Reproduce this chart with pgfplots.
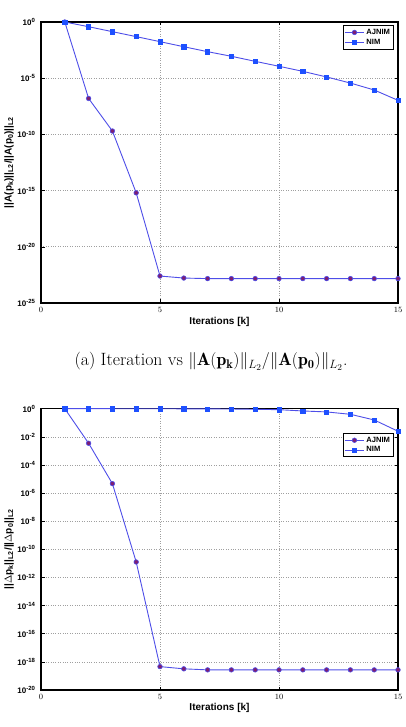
\documentclass[border=0pt]{standalone}
\usepackage{pgfplots}
\pgfplotsset{compat=1.18}
\usepackage{fontspec}
\newfontfamily\hv{Liberation Sans}

\definecolor{lineblue}{RGB}{78,78,232}
\definecolor{ajfill}{RGB}{125,30,115}
\definecolor{nimfill}{RGB}{30,80,255}

\newcommand{\ex}[1]{10\textsuperscript{#1}}

\pgfplotsset{
  ajnim/.style={color=lineblue, line width=0.9pt, mark=*, mark size=2.3pt,
    mark options={fill=ajfill, draw=lineblue, line width=0.6pt}},
  nim/.style={color=lineblue, line width=0.9pt, mark=square*, mark size=2.1pt,
    mark options={fill=nimfill, draw=nimfill, line width=0.5pt}},
}

\begin{document}
\begin{tikzpicture}
\useasboundingbox (0,0) rectangle (405pt,727pt);

% Residual ratio
\begin{semilogyaxis}[
  scale only axis,
  width=357pt, height=281pt,
  at={(41pt,424pt)}, anchor=south west,
  xmin=0, xmax=15, xtick={0,5,10,15},
  ymin=1e-25, ymax=1,
  ytick={1,1e-5,1e-10,1e-15,1e-20,1e-25},
  yticklabels={\ex{0},\ex{-5},\ex{-10},\ex{-15},\ex{-20},\ex{-25}},
  yminorticks=false,
  tick align=inside,
  major tick length=3.5pt,
  grid=major,
  major grid style={dotted, gray!75, line width=0.6pt},
  axis line style={black, line width=1.1pt},
  tick style={black, line width=0.5pt},
  tick label style={font=\hv\bfseries\fontsize{8}{9}\selectfont},
  yticklabel style={xshift=-2pt},
  xticklabel style={yshift=-1pt},
  label style={font=\hv\bfseries\fontsize{10}{11}\selectfont},
  xlabel={Iterations [k]},
  xlabel style={at={(axis description cs:0.5,-0.0669)}, anchor=center},
  ylabel={||A(p\textsubscript{k})||\textsubscript{L2}/||A(p\textsubscript{0})||\textsubscript{L2}},
  ylabel style={at={(axis description cs:-0.0896,0.5)}, anchor=center, rotate=0},
  legend cell align=left,
  legend image code/.code={%
    \draw[mark repeat=2, mark phase=2, #1] plot coordinates {(0pt,0pt) (9.5pt,0pt) (19pt,0pt)};},
  legend style={font=\hv\bfseries\fontsize{7.6}{9}\selectfont, draw=black, line width=1pt,
    inner sep=1.5pt, row sep=-1pt, at={(0.989,0.989)}, anchor=north east},
]
\addplot[ajnim] coordinates {
 (1,1) (2,1.58e-7) (3,2.0e-10) (4,6.3e-16) (5,2.5e-23) (6,1.66e-23)
 (7,1.48e-23) (8,1.48e-23) (9,1.48e-23) (10,1.48e-23) (11,1.48e-23)
 (12,1.48e-23) (13,1.48e-23) (14,1.48e-23) (15,1.48e-23)};
\addlegendentry{AJNIM}
\addplot[nim] coordinates {
 (1,1) (2,0.38) (3,0.138) (4,0.050) (5,0.0178) (6,6.3e-3) (7,2.29e-3)
 (8,8.9e-4) (9,3.16e-4) (10,1.15e-4) (11,4.07e-5) (12,1.29e-5)
 (13,3.7e-6) (14,8.9e-7) (15,1.07e-7)};
\addlegendentry{NIM}
\end{semilogyaxis}

\node at (211pt,365.5pt) {\fontsize{17.8}{20}\selectfont (a) Iteration vs $\|\mathbf{A}(\mathbf{p_k})\|_{L_2}/\|\mathbf{A}(\mathbf{p_0})\|_{L_2}$.};

% Step ratio
\begin{semilogyaxis}[
  scale only axis,
  width=357pt, height=281.3pt,
  at={(41pt,37pt)}, anchor=south west,
  xmin=0, xmax=15, xtick={0,5,10,15},
  ymin=1e-20, ymax=1,
  ytick={1,1e-2,1e-4,1e-6,1e-8,1e-10,1e-12,1e-14,1e-16,1e-18,1e-20},
  yticklabels={\ex{0},\ex{-2},\ex{-4},\ex{-6},\ex{-8},\ex{-10},\ex{-12},\ex{-14},\ex{-16},\ex{-18},\ex{-20}},
  yminorticks=false,
  tick align=inside,
  major tick length=3.5pt,
  grid=major,
  major grid style={dotted, gray!75, line width=0.6pt},
  axis line style={black, line width=1.1pt},
  tick style={black, line width=0.5pt},
  tick label style={font=\hv\bfseries\fontsize{8}{9}\selectfont},
  yticklabel style={xshift=-2pt},
  xticklabel style={yshift=-1pt},
  label style={font=\hv\bfseries\fontsize{10}{11}\selectfont},
  xlabel={Iterations [k]},
  xlabel style={at={(axis description cs:0.5,-0.0636)}, anchor=center},
  ylabel={||$\Delta$p\textsubscript{k}||\textsubscript{L2}/||$\Delta$p\textsubscript{0}||\textsubscript{L2}},
  ylabel style={at={(axis description cs:-0.0896,0.5)}, anchor=center, rotate=0},
  legend cell align=left,
  legend image code/.code={%
    \draw[mark repeat=2, mark phase=2, #1] plot coordinates {(0pt,0pt) (9.5pt,0pt) (19pt,0pt)};},
  legend style={font=\hv\bfseries\fontsize{7.6}{9}\selectfont, draw=black, line width=1pt,
    inner sep=1.5pt, row sep=-1pt, at={(0.989,0.914)}, anchor=north east},
]
\addplot[ajnim] coordinates {
 (1,1) (2,3.5e-3) (3,4.7e-6) (4,1.26e-11) (5,4.6e-19) (6,3.2e-19)
 (7,2.7e-19) (8,2.7e-19) (9,2.7e-19) (10,2.7e-19) (11,2.7e-19)
 (12,2.7e-19) (13,2.7e-19) (14,2.7e-19) (15,2.7e-19)};
\addlegendentry{AJNIM}
\addplot[nim] coordinates {
 (1,1) (2,1) (3,1) (4,0.99) (5,0.99) (6,0.98) (7,0.97) (8,0.95)
 (9,0.91) (10,0.85) (11,0.69) (12,0.59) (13,0.40) (14,0.158) (15,0.025)};
\addlegendentry{NIM}
\end{semilogyaxis}
\end{tikzpicture}
\end{document}
